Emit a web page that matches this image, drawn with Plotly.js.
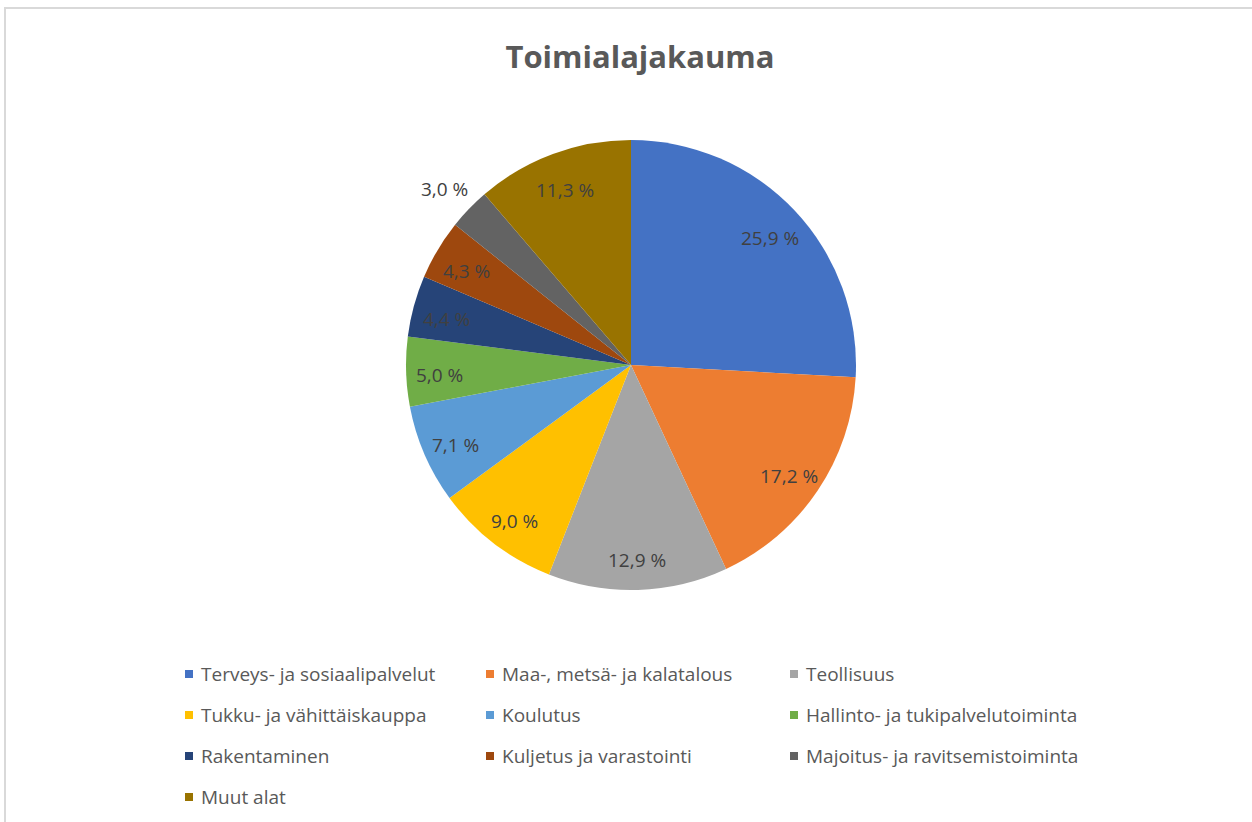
<!DOCTYPE html>
<html>
<head>
<meta charset="utf-8">
<script src="https://cdn.plot.ly/plotly-3.0.1.min.js"></script>
<style>
html,body{margin:0;padding:0;background:#fff;}
#chart{width:1252px;height:822px;}
</style>
</head>
<body>
<div id="chart"></div>
<script>
const categories = [
  "Terveys- ja sosiaalipalvelut",
  "Maa-, metsä- ja kalatalous",
  "Teollisuus",
  "Tukku- ja vähittäiskauppa",
  "Koulutus",
  "Hallinto- ja tukipalvelutoiminta",
  "Rakentaminen",
  "Kuljetus ja varastointi",
  "Majoitus- ja ravitsemistoiminta",
  "Muut alat"
];
const shares = [25.9, 17.2, 12.9, 9.0, 7.1, 5.0, 4.4, 4.3, 3.0, 11.3];
const colors = ["#4472C4", "#ED7D31", "#A5A5A5", "#FFC000", "#5B9BD5",
                "#70AD47", "#264478", "#9E480E", "#636363", "#997300"];
const outsideLabel = [false, false, false, false, false, false, false, false, true, false];

const texts = shares.map(v => v.toFixed(1).replace('.', ',') + ' %');

const W = 1252, H = 822;
const cx = 631, cy = 365, R = 225;
const FONT = 'Open Sans, Liberation Sans, sans-serif';

const trace = {
  type: 'pie',
  labels: categories,
  values: shares,
  text: texts,
  textinfo: 'none',
  hoverinfo: 'label+text',
  sort: false,
  direction: 'clockwise',
  rotation: 0,
  marker: {colors: colors, line: {width: 0}},
  showlegend: false,
  domain: {x: [(cx - R) / W, (cx + R) / W], y: [1 - (cy + R) / H, 1 - (cy - R) / H]}
};

// data labels along each slice's bisector (Excel-like placement)
const total = shares.reduce((a, b) => a + b, 0);
const annotations = [];
let cum = 0;
shares.forEach((v, i) => {
  const mid = (cum + v / 2) / total * 2 * Math.PI;
  cum += v;
  const r = outsideLabel[i] ? 1.15 * R : 0.85 * R;
  const px = cx + r * Math.sin(mid);
  const py = cy - r * Math.cos(mid) + 4;
  annotations.push({
    xref: 'paper', yref: 'paper', x: px / W, y: 1 - py / H,
    xanchor: 'center', yanchor: 'middle', showarrow: false,
    text: texts[i],
    font: {family: FONT, size: 19, color: '#404040'}
  });
});

// legend: 3 columns, drawn as shapes + annotations
const legendCols = [185, 486, 790];
const legendRow0 = 674, legendRowStep = 41, sw = 8;
const shapes = [{
  type: 'rect', xref: 'paper', yref: 'paper',
  x0: 5 / W, x1: 1.01, y0: -0.01, y1: 1 - 8 / H,
  line: {color: '#D9D9D9', width: 2}, fillcolor: 'rgba(0,0,0,0)'
}];
categories.forEach((c, i) => {
  const col = i % 3, row = Math.floor(i / 3);
  const x0 = legendCols[col];
  const yc = legendRow0 + row * legendRowStep;
  shapes.push({
    type: 'rect', xref: 'paper', yref: 'paper',
    x0: x0 / W, x1: (x0 + sw) / W,
    y0: 1 - (yc + sw / 2) / H, y1: 1 - (yc - sw / 2) / H,
    line: {width: 0}, fillcolor: colors[i]
  });
  annotations.push({
    xref: 'paper', yref: 'paper', x: (x0 + 14) / W, y: 1 - yc / H,
    xanchor: 'left', yanchor: 'middle', showarrow: false,
    text: c,
    font: {family: FONT, size: 19, color: '#595959'}
  });
});

const layout = {
  width: W, height: H,
  margin: {l: 0, r: 0, t: 0, b: 0},
  paper_bgcolor: '#fff',
  showlegend: false,
  title: {
    text: '<b>Toimialajakauma</b>',
    font: {family: FONT, size: 31, color: '#595959'},
    x: 640 / W, xanchor: 'center', y: 1 - 57 / H, yanchor: 'middle'
  },
  annotations: annotations,
  shapes: shapes
};

Plotly.newPlot('chart', [trace], layout, {displayModeBar: false, staticPlot: true});
</script>
</body>
</html>
